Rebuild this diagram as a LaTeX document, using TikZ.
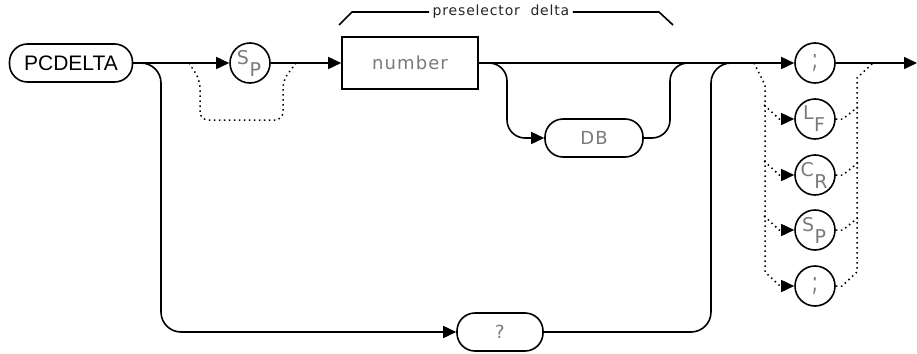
\documentclass[tikz,border=0pt]{standalone}
\usepackage{fontspec}
\setmainfont{DejaVu Sans}
\newfontfamily\plotfont[LetterSpace=6]{DejaVu Sans}
\newfontfamily\keyfont{Liberation Sans}
\usetikzlibrary{arrows.meta}
\newcommand{\twoch}[2]{\fontsize{19}{21}\selectfont\raisebox{12pt}{#1}\kern0.5pt#2\kern2pt}

\begin{document}
\begin{tikzpicture}[
    x=1pt, y=-1pt,
    every node/.style={font=\plotfont\fontsize{18}{20}\selectfont, text=lbl},
    term/.style={draw=black, line width=1.6pt, rounded corners=18pt, minimum width=#1, minimum height=38pt, inner sep=0pt},
    box/.style={draw=black, line width=1.6pt, minimum width=136pt, minimum height=52pt, inner sep=0pt},
    circ/.style={draw=black, line width=1.6pt, circle, minimum size=40pt, inner sep=0pt},
    line/.style={line width=1.6pt},
    arr/.style={line, -{Triangle[length=13pt,width=12pt]}},
    dots/.style={line width=1.5pt, dash pattern=on 1.5pt off 3.5pt},
    dotarr/.style={dots, -{Triangle[length=13pt,width=12pt]}},
  ]
    \definecolor{lbl}{HTML}{7a7a7a}
    \useasboundingbox (0,0) rectangle (917,353);

    % keyword and parameter
    \node[term=123pt, font=\keyfont\fontsize{21}{23}\selectfont, text=black] (pcd) at (71,63) {PCDELTA};
    \node[circ] (sp1) at (250,63) {\twoch{S}{P}};
    \node[box] (num) at (410,63) {number};
    \node[term=98pt] (db) at (594,138) {DB};
    \node[term=86pt] (qm) at (500,332) {?};
    \node[font=\plotfont\fontsize{14}{16}\selectfont, text=black!85] (brk) at (501,12) {preselector\ \ delta};

    % terminators
    \node[circ] (semi1) at (815,63) {\scalebox{1}[1.5]{;}};
    \node[circ] (lf) at (815,119) {\twoch{L}{F}};
    \node[circ] (cr) at (815,175) {\twoch{C}{R}};
    \node[circ] (sp2) at (815,230) {\twoch{S}{P}};
    \node[circ] (semi2) at (815,286) {\scalebox{1}[1.5]{;}};

    % forks and joins on the main line
    \coordinate (qfork) at (140,63);
    \coordinate (spfork) at (189,63);
    \coordinate (spjoin) at (296,63);
    \coordinate (dbfork) at (489,63);
    \coordinate (dbjoin) at (689,63);
    \coordinate (qjoin) at (731,63);
    \coordinate (endfork) at (754,63);
    \coordinate (endjoin) at (873,63);
    \coordinate (out) at (917,63);

    % main line
    \draw[arr] (pcd) -- (sp1);
    \draw[arr] (sp1) -- (num);
    \draw[arr] (num) -- (semi1);
    \draw[arr] (semi1) -- (out);

    % bracket
    \draw[line] (brk.west) -- (352,12) -- (339,25);
    \draw[line] (brk.east) -- (659,12) -- (673,25);

    % optional space
    \draw[dots, rounded corners=8pt] (spfork) -- (200,80) -- (200,120) -- (283,120) -- (283,80) -- (spjoin);

    % optional DB
    \draw[arr, rounded corners=18pt] (dbfork) -- (507,63) -- (507,138) -- (db);
    \draw[line, rounded corners=18pt] (db) -- (670,138) -- (670,63) -- (dbjoin);

    % query
    \draw[arr, rounded corners=20pt] (qfork) -- (161,63) -- (161,332) -- (qm);
    \draw[line, rounded corners=20pt] (qm) -- (711,332) -- (711,63) -- (qjoin);

    % other terminators
    \draw[dotarr] (endfork) -- (765,85) -- (765,272) -- (780,286) -- (semi2);
    \draw[dots] (semi2) -- (842,286) -- (857,272) -- (857,78) -- (endjoin);
    \foreach \n in {lf,cr,sp2} {
      \draw[dotarr] ([xshift=-30pt,yshift=14pt]\n.west) -- ([xshift=-15pt]\n.west) -- (\n.west);
      \draw[dots] (\n.east) -- ++(7,0) -- ++(15,-12);
    }
  \end{tikzpicture}
\end{document}
